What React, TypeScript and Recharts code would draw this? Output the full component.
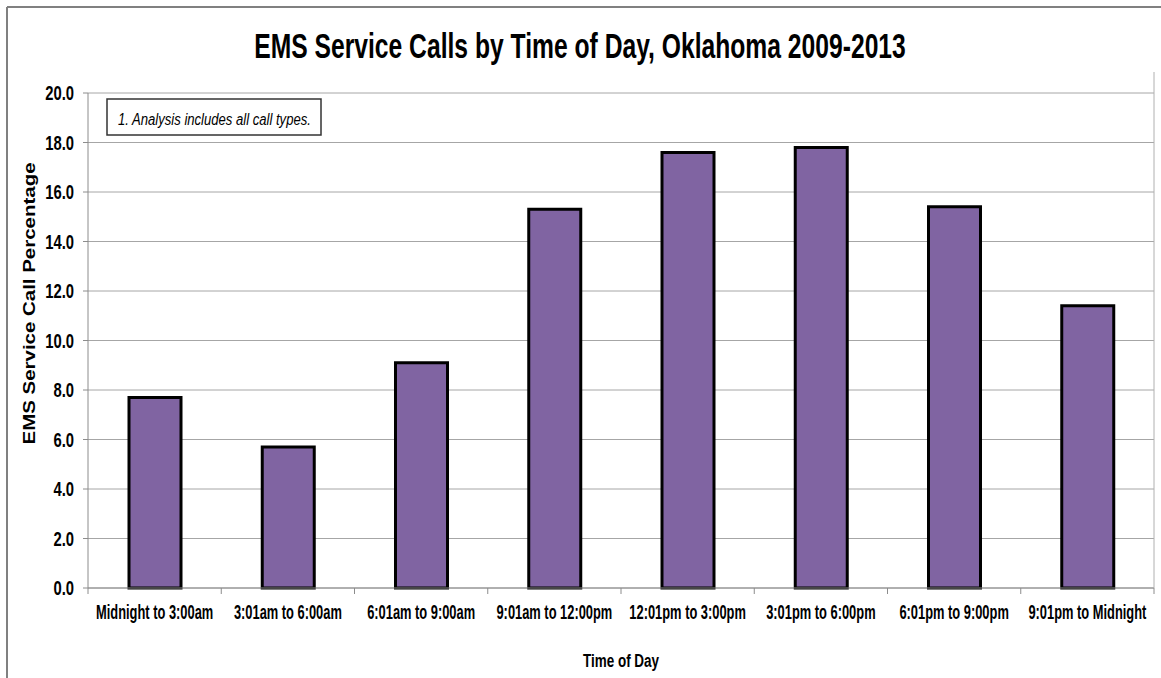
import React from "react";
import { BarChart, Bar, XAxis, YAxis, CartesianGrid } from "recharts";

const categories = [
  "Midnight to 3:00am",
  "3:01am to 6:00am",
  "6:01am to 9:00am",
  "9:01am to 12:00pm",
  "12:01pm to 3:00pm",
  "3:01pm to 6:00pm",
  "6:01pm to 9:00pm",
  "9:01pm to Midnight",
];
const callPct = [7.7, 5.7, 9.1, 15.3, 17.6, 17.8, 15.4, 11.4];
const yTicks = [0, 2, 4, 6, 8, 10, 12, 14, 16, 18, 20];

const chartTitle = "EMS Service Calls by Time of Day, Oklahoma 2009-2013";
const noteText = "1. Analysis  includes all call types.";
const yTitle = "EMS Service Call Percentage";
const xTitle = "Time of Day";

const data = categories.map((c, i) => ({ category: c, pct: callPct[i] }));

const FONT = "'Liberation Sans', Arial, sans-serif";

function SText(props: any) {
  const { x, y, sx = 1, rotate = 0, anchor = "start", size, weight = "normal", italic = false, children } = props;
  return (
    <g transform={`translate(${x},${y}) rotate(${rotate})`}>
      <text
        textAnchor={anchor}
        transform={`scale(${sx},1)`}
        fontSize={size}
        fontWeight={weight}
        fontStyle={italic ? "italic" : "normal"}
        fontFamily={FONT}
        fill="#000"
      >
        {children}
      </text>
    </g>
  );
}

function XTick(props: any) {
  const { x, y, payload, index, visibleTicksCount } = props;
  const off = payload && payload.offset ? payload.offset : 0;
  return (
    <g>
      <line x1={x - off} x2={x - off} y1={y} y2={y + 6} stroke="#8c8c8c" strokeWidth={1} />
      {index === visibleTicksCount - 1 && (
        <line x1={x + off} x2={x + off} y1={y} y2={y + 6} stroke="#8c8c8c" strokeWidth={1} />
      )}
      <SText x={x} y={y + 31} sx={0.66} anchor="middle" size={19.5} weight="bold">
        {payload.value}
      </SText>
    </g>
  );
}

function YTick(props: any) {
  const { x, y, payload } = props;
  return (
    <SText x={x} y={y + 7} sx={0.76} anchor="end" size={19.5} weight="bold">
      {Number(payload.value).toFixed(1)}
    </SText>
  );
}

export default function App() {
  return (
    <div
      style={{
        position: "absolute",
        left: 0,
        top: 0,
        width: 1161,
        height: 678,
        background: "#fff",
        overflow: "hidden",
      }}
    >
      <BarChart
        width={1161}
        height={678}
        data={data}
        margin={{ top: 93, right: 7, bottom: 0, left: 8 }}
        barSize={52}
      >
        <CartesianGrid vertical={false} stroke="#a6a6a6" strokeWidth={1} />
        <XAxis
          dataKey="category"
          height={90}
          interval={0}
          tickSize={0}
          tickMargin={0}
          tickLine={false}
          axisLine={{ stroke: "#8c8c8c", strokeWidth: 1 }}
          tick={<XTick />}
        />
        <YAxis
          width={80}
          domain={[0, 20]}
          ticks={yTicks}
          interval={0}
          tickSize={5}
          tickMargin={9}
          axisLine={{ stroke: "#8c8c8c", strokeWidth: 1 }}
          tickLine={{ stroke: "#8c8c8c", strokeWidth: 1 }}
          tick={<YTick />}
        />
        <Bar
          dataKey="pct"
          fill="#8064A2"
          stroke="#000"
          strokeWidth={3}
          isAnimationActive={false}
        />
      </BarChart>
      <svg
        width={1161}
        height={678}
        style={{ position: "absolute", left: 0, top: 0, pointerEvents: "none" }}
      >
        <line x1={7} y1={7} x2={1161} y2={7} stroke="#808080" strokeWidth={2} />
        <line x1={7} y1={7} x2={7} y2={678} stroke="#808080" strokeWidth={2} />
        <line x1={1154} y1={72} x2={1154} y2={588} stroke="#b0b0b0" strokeWidth={1} />
        <SText x={580} y={58} sx={0.705} anchor="middle" size={35} weight="bold">
          {chartTitle}
        </SText>
        <rect x={107} y={99} width={214} height={36} fill="#fff" stroke="#333" strokeWidth={1.5} />
        <SText x={118} y={125} sx={0.77} size={17} italic>
          {noteText}
        </SText>
        <SText x={35} y={303.5} rotate={-90} sx={1.28} anchor="middle" size={16} weight="bold">
          {yTitle}
        </SText>
        <SText x={621} y={667} sx={0.71} anchor="middle" size={19} weight="bold">
          {xTitle}
        </SText>
      </svg>
    </div>
  );
}
